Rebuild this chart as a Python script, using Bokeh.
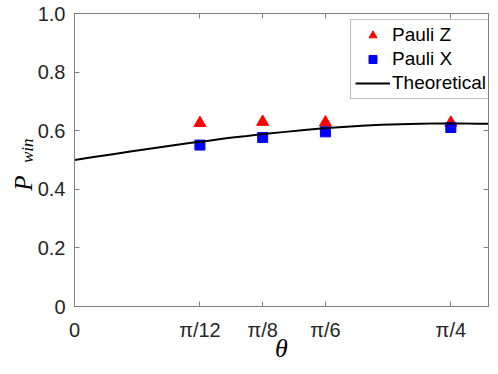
import numpy as np
from bokeh.plotting import figure
from bokeh.layouts import row
from bokeh.models import Range1d, FixedTicker, LinearAxis, Legend, LegendItem
from bokeh.core.properties import value
from bokeh.embed import file_html
from bokeh.resources import INLINE

# ---------------- data ----------------
theta_ticks = [0, np.pi / 12, np.pi / 8, np.pi / 6, np.pi / 4]
theta_tick_labels = ["0", "π/12", "π/8", "π/6", "π/4"]
y_ticks = [0, 0.2, 0.4, 0.6, 0.8, 1.0]
y_tick_labels = ["0", "0.2", "0.4", "0.6", "0.8", "1.0"]

theta_meas = [np.pi / 12, np.pi / 8, np.pi / 6, np.pi / 4]
pauli_z = [0.626, 0.630, 0.628, 0.627]
pauli_x = [0.551, 0.577, 0.596, 0.611]

theory_theta = [0.00, 0.04, 0.08, 0.12, 0.16, 0.20, 0.24, 0.28, 0.32, 0.36, 0.40, 0.44,
                0.48, 0.52, 0.56, 0.60, 0.64, 0.68, 0.72, 0.76, 0.80, 0.84, 0.88]
theory_p = [0.500, 0.510, 0.520, 0.530, 0.539, 0.549, 0.558, 0.566, 0.575, 0.582, 0.590, 0.596,
            0.602, 0.608, 0.613, 0.617, 0.620, 0.622, 0.624, 0.625, 0.625, 0.624, 0.623]

X_MAX = 0.864
AX_COL = "#808080"
TXT_COL = "#262626"
SANS = "Liberation Sans"
SERIF = "Liberation Serif"

H = 366
TOP, BOTTOM = 13, 60
LW = 34          # width of the strip holding the rotated y label
MW = 490 - LW    # width of the main figure

# ---------------- y label strip (frame aligned with the main frame) ----------------
lab = figure(width=LW, height=H, x_range=Range1d(0, LW), y_range=Range1d(H - (H - BOTTOM), H - TOP),
             x_axis_location=None, y_axis_location=None, output_backend="svg",
             toolbar_location=None, min_border_left=0, min_border_right=0,
             min_border_top=TOP, min_border_bottom=BOTTOM)
lab.outline_line_color = None
lab.background_fill_color = "white"
lab.border_fill_color = "white"
for g in lab.grid:
    g.visible = False
# rotated texts anchored at their upper end
lab.text(x=[23], y=[H - 175], text=["P"], angle=np.pi / 2, text_font=value(SERIF),
         text_font_style="italic", text_font_size="25px", text_color="black",
         text_align="right", text_baseline="alphabetic")
lab.text(x=[26.5], y=[H - 138], text=["win"], angle=np.pi / 2, text_font=value(SERIF),
         text_font_style="italic", text_font_size="17px", text_color="black",
         text_align="right", text_baseline="alphabetic")

# ---------------- main figure ----------------
p = figure(width=MW, height=H, x_range=Range1d(0, X_MAX), y_range=Range1d(0, 1),
           output_backend="svg", toolbar_location=None,
           min_border_left=72 - LW, min_border_right=2, min_border_top=TOP, min_border_bottom=BOTTOM)
p.xgrid.visible = False
p.ygrid.visible = False
p.outline_line_color = AX_COL
p.outline_line_width = 1
p.background_fill_color = "white"
p.border_fill_color = "white"


def style_axis(ax, ticks, labels, show_labels=True):
    ax.ticker = FixedTicker(ticks=ticks)
    if show_labels:
        ax.major_label_overrides = {float(t): l for t, l in zip(ticks, labels)}
    else:
        ax.major_label_overrides = {float(t): "" for t in ticks}
    ax.axis_line_color = AX_COL
    ax.major_tick_line_color = AX_COL
    ax.major_tick_in = 5
    ax.major_tick_out = 0
    ax.minor_tick_line_color = None
    ax.major_label_text_font = SANS
    ax.major_label_text_font_size = "20px"
    ax.major_label_text_color = TXT_COL


style_axis(p.xaxis[0], theta_ticks, theta_tick_labels)
style_axis(p.yaxis[0], y_ticks, y_tick_labels)
p.xaxis[0].major_label_standoff = 12
p.yaxis[0].major_label_standoff = 9

p.xaxis[0].axis_label = "θ"
p.xaxis[0].axis_label_text_font = SERIF
p.xaxis[0].axis_label_text_font_style = "italic"
p.xaxis[0].axis_label_text_font_size = "26px"
p.xaxis[0].axis_label_text_color = "black"
p.xaxis[0].axis_label_standoff = -10

top_ax = LinearAxis()
style_axis(top_ax, theta_ticks, theta_tick_labels, show_labels=False)
top_ax.major_label_standoff = 0
p.add_layout(top_ax, "above")
right_ax = LinearAxis()
style_axis(right_ax, y_ticks, y_tick_labels, show_labels=False)
right_ax.major_label_standoff = 0
p.add_layout(right_ax, "right")

# ---------------- glyphs ----------------
r_z = p.scatter(theta_meas, pauli_z, marker="triangle", size=12,
                fill_color="red", line_color="red")
r_x = p.scatter(theta_meas, pauli_x, marker="square", size=10,
                fill_color="blue", line_color="blue")
r_t = p.line(theory_theta, theory_p, line_color="black", line_width=2)

legend = Legend(items=[LegendItem(label="Pauli Z", renderers=[r_z]),
                       LegendItem(label="Pauli X", renderers=[r_x]),
                       LegendItem(label="Theoretical", renderers=[r_t])],
                location=(276, 207), margin=0, padding=4, spacing=2,
                label_height=20, glyph_height=20, glyph_width=35, label_standoff=2,
                label_text_font=SANS, label_text_font_size="19px", label_text_color="black",
                border_line_color=AX_COL, border_line_width=1,
                background_fill_color="white", background_fill_alpha=1)
p.add_layout(legend)

layout = row(lab, p)
open("out.html", "w").write(file_html(layout, INLINE))
